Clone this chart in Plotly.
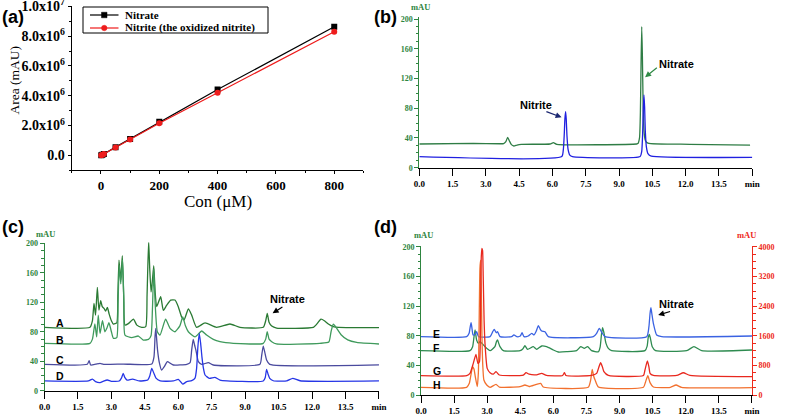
import plotly.graph_objects as go

W, H = 787, 414
SERIF = "Liberation Serif, Times New Roman, serif"
SANS = "Liberation Sans, Arial, sans-serif"
GREEN_AX = "#2e8540"
RED_AX = "#ee2a1b"

# ---------------- (a) calibration ----------------
con_um = [1, 5, 10, 50, 100, 200, 400, 800]
nitrate_area = [0.01e6, 0.045e6, 0.09e6, 0.55e6, 1.1e6, 2.25e6, 4.42e6, 8.63e6]
nitrite_area = [0.01e6, 0.04e6, 0.085e6, 0.53e6, 1.06e6, 2.15e6, 4.2e6, 8.3e6]
series_names = ["Nitrate", "Nitrite (the oxidized nitrite)"]
area_tickvals = [0, 2e6, 4e6, 6e6, 8e6, 1e7]
area_ticktext = ["0.0", "2.0x10<sup>6</sup>", "4.0x10<sup>6</sup>", "6.0x10<sup>6</sup>",
                 "8.0x10<sup>6</sup>", "1.0x10<sup>7</sup>"]

# ---------------- chromatogram time axis ----------------
time_ticks = [0, 1.5, 3.0, 4.5, 6.0, 7.5, 9.0, 10.5, 12.0, 13.5, 15.0]
time_labels = ["0.0", "1.5", "3.0", "4.5", "6.0", "7.5", "9.0", "10.5", "12.0", "13.5", "min"]

# ---------------- (b) standards ----------------
b_green_t = [0, 2.43, 3.63, 3.8, 3.9, 3.98, 4.06, 4.15, 4.26, 4.4, 4.6, 5.89, 6.04, 6.19,
             9.79, 9.85, 9.92, 9.96, 9.99, 10.02, 10.05, 10.08, 10.12, 10.18, 10.3, 12.19, 14.9]
b_green_v = [31.9, 32.7, 32.2, 32.5, 35, 40.8, 36, 31, 29.2, 30.5, 31.4, 31.9, 33.6, 31.4,
             31.9, 32.5, 40, 75, 140, 189.8, 150, 90, 50, 37, 33, 31.5, 30.5]
b_blue_t = [0, 6.42, 6.49, 6.53, 6.56, 6.59, 6.62, 6.65, 6.7, 6.78, 6.9,
            9.95, 10.02, 10.06, 10.09, 10.12, 10.15, 10.18, 10.23, 10.3, 10.45, 15.0]
b_blue_v = [14.8, 15, 25, 45, 66, 75.4, 65, 44, 25, 17, 15,
            15, 22, 45, 80, 97.8, 82, 50, 28, 19, 15.5, 13.9]

# ---------------- (c) samples A-D ----------------
c_a_t = [0, 2.04, 2.15, 2.22, 2.29, 2.37, 2.44, 2.52, 2.59, 2.67, 2.74, 2.82, 2.9, 3.0, 3.09,
         3.24, 3.29, 3.34, 3.42, 3.49, 3.55, 3.61, 3.76, 3.99, 4.14, 4.36, 4.54, 4.6, 4.67,
         4.72, 4.78, 4.84, 4.90, 4.96, 5.03, 5.21, 5.33, 5.48, 5.66, 5.85, 6.0, 6.15, 6.26,
         6.45, 6.60, 6.82, 7.2, 7.72, 8.32, 8.77, 9.81, 9.92, 9.99, 10.07, 10.19, 10.41,
         12.06, 12.2, 12.4, 12.55, 12.73, 12.95, 13.2, 15.0]
c_a_v = [86, 86, 95, 118.5, 102.7, 140.2, 109.4, 122.1, 114, 111.7, 108, 113, 104, 95, 90.5,
         92, 130, 177.3, 150, 183.2, 130, 89, 91, 97, 89, 86, 87, 130, 203.5,
         165, 134, 150, 169.6, 135, 114, 127.5, 109, 116, 123, 123, 114, 100, 96,
         111, 102.6, 86, 92, 86, 90.5, 86, 86, 95, 105, 93, 87.7, 85,
         86, 90, 97, 95, 90.5, 87, 86, 85.5]
c_b_t = [0, 2.04, 2.15, 2.26, 2.34, 2.41, 2.49, 2.6, 2.71, 2.8, 2.89, 3.0, 3.09, 3.24, 3.3,
         3.35, 3.42, 3.5, 3.56, 3.61, 3.91, 4.21, 4.43, 4.66, 4.78, 4.84, 4.9, 4.96, 5.06,
         5.18, 5.43, 5.63, 5.85, 6.07, 6.2, 6.32, 6.45, 6.75, 7.05, 7.27, 7.57, 7.87, 8.47,
         9.81, 9.92, 9.99, 10.07, 10.19, 10.4, 12.35, 12.75, 12.85, 12.95, 13.05, 13.3,
         13.6, 14.0, 15.0]
c_b_v = [64.3, 64.3, 70, 90.5, 73, 102.7, 77.8, 95, 80, 85, 92.3, 80, 71, 72, 120,
         170, 145, 178, 120, 75.5, 72, 74.2, 68.7, 69.6, 75, 110, 165, 120, 80,
         75.5, 97, 84.6, 80, 88, 100, 88, 80, 73, 81, 75.5, 69.6, 66.5, 64.3,
         64.3, 70, 80, 70, 66.5, 63.4, 64.3, 66, 80, 90.5, 87, 76,
         69, 65.5, 63.4]
c_c_t = [0, 1.92, 2.0, 2.07, 2.3, 2.49, 2.65, 3.54, 4.81, 4.91, 4.96, 4.99, 5.03, 5.07, 5.15,
         5.25, 5.38, 5.51, 5.65, 5.78, 6.38, 6.53, 6.6, 6.67, 6.73, 6.79, 6.9, 7.05, 7.35,
         7.57, 9.66, 9.74, 9.81, 9.88, 9.96, 10.1, 15.0]
c_c_v = [35.8, 35.8, 40.7, 34.9, 36, 37.1, 35.8, 36.2, 36.2, 46, 75, 84.7, 70, 55, 38,
         28, 33, 39.4, 37, 34.9, 35.8, 38, 55, 69.7, 62, 55, 39.4, 35.8, 38,
         34.9, 35.8, 48, 60.6, 52, 41.6, 35.8, 35]
c_d_t = [0, 1.97, 2.15, 2.29, 2.49, 2.65, 2.82, 3.0, 3.35, 3.45, 3.53, 3.6, 3.7, 3.95, 4.25,
         4.63, 4.72, 4.81, 4.9, 5.0, 5.19, 5.78, 6.0, 6.2, 6.38, 6.6, 6.75, 6.82, 6.88, 6.94,
         7.0, 7.06, 7.13, 7.2, 7.39, 7.64, 7.87, 9.81, 9.9, 9.96, 10.03, 10.1, 10.26, 10.86,
         11.13, 11.46, 15.0]
c_d_v = [13.2, 13.2, 15.8, 12.3, 10.9, 13, 14.5, 12.8, 13.2, 17, 23.6, 18, 14.5, 15.8, 13.2,
         14.5, 20, 30.3, 24, 17, 13.2, 13.2, 15.4, 9, 12.3, 13.6, 17, 30, 60, 77.8,
         65, 46, 30, 21.3, 16.8, 18.1, 14.5, 13.2, 18, 29, 22, 16.8, 13.5, 13.2,
         16.8, 13.5, 13.2]

# ---------------- (d) samples E-H (G, H on right axis) ----------------
d_e_t = [0, 2.07, 2.18, 2.23, 2.27, 2.31, 2.36, 2.45, 2.52, 2.61, 3.13, 3.25, 3.32, 3.41, 3.47,
         3.58, 4.11, 4.21, 4.34, 4.5, 4.58, 4.67, 4.86, 5.02, 5.12, 5.22, 5.32, 5.4, 5.47,
         5.62, 5.77, 7.81, 7.96, 8.08, 8.2, 8.34, 10.23, 10.33, 10.38, 10.42, 10.47, 10.53,
         10.68, 10.91, 15.0]
d_e_v = [78.7, 78.7, 83.2, 92, 97.6, 90, 80.9, 82, 85.4, 78.7, 78.7, 85.4, 88.6, 84, 85.4,
         78.7, 78.7, 81, 78.7, 79.5, 84, 78.7, 79.6, 83.2, 81, 86, 93.5, 89, 86.3,
         85.4, 78.7, 78.7, 83.2, 90, 84, 78.7, 78.7, 92.2, 110, 117.8, 108, 96.7,
         81, 78.7, 79.6]
d_f_t = [0, 2.22, 2.34, 2.4, 2.45, 2.52, 2.6, 2.67, 2.79, 2.9, 3.13, 3.35, 3.42, 3.47, 3.52,
         3.58, 3.73, 4.49, 4.61, 4.71, 4.83, 5.09, 5.24, 5.47, 5.69, 6.0, 6.22, 6.6, 7.05,
         7.24, 7.4, 7.55, 7.73, 8.04, 8.12, 8.18, 8.23, 8.29, 8.38, 8.49, 8.64, 10.15, 10.25,
         10.3, 10.35, 10.4, 10.48, 10.63, 12.04, 12.37, 12.72, 15.0]
d_f_v = [59.8, 59.8, 65.2, 78, 87.7, 74.2, 69.7, 71.9, 68.8, 65.2, 59.8, 65.2, 72, 74.2, 70,
         65.2, 59.8, 59.8, 62, 66.5, 61.6, 65.2, 61.6, 66.1, 65.2, 60.7, 58, 58.4, 59.8,
         65.2, 62.9, 65.2, 59.8, 58.4, 65, 82, 90.8, 84, 70, 62.9, 59.8, 59.8, 66,
         78, 81.9, 76, 65, 59.8, 59.8, 65.2, 59.8, 60.7]
d_g_t = [0, 2.07, 2.22, 2.37, 2.49, 2.58, 2.65, 2.7, 2.73, 2.76, 2.79, 2.82, 2.86, 2.9, 3.0,
         3.13, 3.28, 3.4, 3.55, 4.64, 4.76, 4.9, 5.24, 5.47, 5.69, 6.42, 6.5, 6.57, 7.73,
         7.96, 8.06, 8.14, 8.22, 8.29, 8.49, 10.08, 10.15, 10.26, 10.33, 10.38, 10.53,
         11.59, 11.89, 12.19, 15.0]
d_g_v = [521, 521, 584, 854, 1097, 854, 900, 2500, 3700, 3956, 3900, 3200, 2000, 1393, 719,
         602, 566, 629, 539, 539, 602, 560, 545, 584, 527, 527, 602, 527, 527,
         584, 750, 871, 760, 629, 527, 527, 674, 917, 760, 584, 527,
         527, 600, 527, 494]
d_h_t = [0, 2.07, 2.19, 2.28, 2.34, 2.4, 2.46, 2.55, 2.6, 2.64, 2.67, 2.7, 2.73, 2.76, 2.8,
         2.85, 2.98, 3.13, 3.4, 3.55, 4.49, 4.71, 4.9, 5.42, 5.54, 7.58, 7.69, 7.76, 7.83,
         7.89, 8.04, 10.08, 10.18, 10.28, 10.38, 10.53, 11.3, 11.56, 11.81, 15.0]
d_h_v = [207, 207, 315, 600, 764, 700, 494, 225, 600, 2200, 3400, 3641, 3000, 1663, 800,
         405, 270, 207, 288, 215, 225, 270, 230, 315, 215, 207, 405, 692, 500,
         405, 215, 207, 360, 520, 333, 215, 207, 270, 207, 198]


def px(x):
    return x / W


def py(y):
    return 1 - y / H


NITRATE_COL = "black"
NITRITE_COL = "#ee1c1c"

fig = go.Figure()

# (a)
fig.add_trace(go.Scatter(x=con_um, y=nitrate_area, mode="lines+markers", name=series_names[0],
                         line=dict(color=NITRATE_COL, width=1.2), showlegend=False,
                         marker=dict(symbol="square", size=6, color=NITRATE_COL),
                         xaxis="x", yaxis="y"))
fig.add_trace(go.Scatter(x=con_um, y=nitrite_area, mode="lines+markers",
                         name=series_names[1], showlegend=False,
                         line=dict(color=NITRITE_COL, width=1.2),
                         marker=dict(symbol="circle", size=6, color=NITRITE_COL),
                         xaxis="x", yaxis="y"))


def chrom(t, v, color, xa, ya, width=1.3):
    fig.add_trace(go.Scatter(x=t, y=v, mode="lines", showlegend=False,
                             line=dict(color=color, width=width, shape="spline", smoothing=0.5),
                             xaxis=xa, yaxis=ya, hoverinfo="skip"))


# (b)
chrom(b_green_t, b_green_v, "#2f7d45", "x2", "y2")
chrom(b_blue_t, b_blue_v, "#2020e0", "x2", "y2")
# (c)
chrom(c_a_t, c_a_v, "#2a7a33", "x3", "y3")
chrom(c_b_t, c_b_v, "#3f9a5c", "x3", "y3")
chrom(c_c_t, c_c_v, "#4a4a9e", "x3", "y3")
chrom(c_d_t, c_d_v, "#2636e6", "x3", "y3")
# (d)
chrom(d_f_t, d_f_v, "#2e8b50", "x4", "y4")
chrom(d_e_t, d_e_v, "#3a62e2", "x4", "y4")
chrom(d_h_t, d_h_v, "#f2702e", "x4", "y5")
chrom(d_g_t, d_g_v, "#e8281e", "x4", "y5")


def time_axis(dom, anchor):
    return dict(domain=dom, anchor=anchor, range=[0, 15.001], showline=True, linecolor="black",
                linewidth=1, ticks="outside", ticklen=7, tickcolor="black", tickwidth=1,
                tickmode="array", tickvals=time_ticks, ticktext=time_labels,
                tickfont=dict(family=SERIF, size=9, color="black", weight="bold"),
                ticklabeloverflow="allow",
                showgrid=False, zeroline=False, fixedrange=True, automargin=False)


def mau_axis(dom, anchor, top, color=GREEN_AX, dtick=40, minor=10, side="left", overlay=None):
    d = dict(domain=dom, anchor=anchor, range=[0, top], showline=True, linecolor=color,
             linewidth=1, ticks="outside", ticklen=4, tickcolor=color, tickwidth=1,
             tickmode="linear", tick0=0, dtick=dtick,
             tickfont=dict(family=SERIF, size=8, color=color, weight="bold"),
             minor=dict(tickmode="linear", tick0=0, dtick=minor, ticks="outside", ticklen=2.5,
                        tickcolor=color),
             ticklabeloverflow="allow",
             showgrid=False, zeroline=False, side=side, fixedrange=True, automargin=False)
    if overlay:
        d["overlaying"] = overlay
        d.pop("domain")
    return d


fig.update_layout(
    template="none",
    width=W, height=H, autosize=False,
    margin=dict(l=0, r=0, t=0, b=0, pad=0, autoexpand=False),
    paper_bgcolor="white", plot_bgcolor="white",
    showlegend=False,
    xaxis=dict(domain=[px(71.8), px(363.4)], anchor="y", range=[-100, 900],
               showline=True, linecolor="black", linewidth=1.2, ticks="outside", ticklen=3,
               tickcolor="black", tickmode="linear", tick0=0, dtick=200,
               tickfont=dict(family=SERIF, size=13, color="black", weight="bold"),
               minor=dict(tickmode="linear", tick0=0, dtick=100, ticks="outside", ticklen=2,
                          tickcolor="black"),
               ticklabeloverflow="allow",
               showgrid=False, zeroline=False, fixedrange=True, automargin=False),
    yaxis=dict(domain=[py(170.2), py(6.3)], anchor="x", range=[-1e6, 1.001e7],
               showline=True, linecolor="black", linewidth=1.2, ticks="outside", ticklen=3,
               tickcolor="black", tickmode="array", tickvals=area_tickvals,
               ticktext=area_ticktext,
               tickfont=dict(family=SERIF, size=14, color="black", weight="bold"),
               minor=dict(tickmode="linear", tick0=0, dtick=1e6, ticks="outside", ticklen=2,
                          tickcolor="black"),
               ticklabeloverflow="allow",
               showgrid=False, zeroline=False, fixedrange=True, automargin=False),
    xaxis2=time_axis([px(419.3), px(752.3)], "y2"),
    yaxis2=mau_axis([py(167.7), py(16.8)], "x2", 203),
    xaxis3=time_axis([px(44.5), px(379)], "y3"),
    yaxis3=mau_axis([py(390.7), py(242.6)], "x3", 201),
    xaxis4=time_axis([px(421), px(752)], "y4"),
    yaxis4=mau_axis([py(395), py(246)], "x4", 201),
    yaxis5=mau_axis(None, "x4", 4020, color=RED_AX, dtick=800, minor=200, side="right",
                    overlay="y4"),
)

ann = []
shapes = []


def label(text, x, y, size, family=SANS, color="black", bold=True, xanchor="center",
          yanchor="middle", angle=0):
    ann.append(dict(text=text, x=px(x), y=py(y), xref="paper", yref="paper",
                    xanchor=xanchor, yanchor=yanchor, showarrow=False, textangle=angle,
                    font=dict(family=family, size=size, color=color,
                              weight="bold" if bold else "normal")))


def arrow(xa, ya, x, y, ax, ay, color):
    ann.append(dict(text="", x=x, y=y, xref=xa, yref=ya, ax=ax, ay=ay, showarrow=True,
                    arrowhead=2, arrowsize=1, arrowwidth=1.2, arrowcolor=color))


# legend box for (a)
shapes.append(dict(type="rect", xref="paper", yref="paper", x0=px(83), x1=px(268),
                   y0=py(33), y1=py(7), line=dict(color="black", width=1),
                   fillcolor="white", layer="above"))
for i, (nm, col, sym) in enumerate([(series_names[0], NITRATE_COL, "rect"),
                                    (series_names[1], NITRITE_COL, "circle")]):
    yy = 15 + 13 * i
    shapes.append(dict(type="line", xref="paper", yref="paper", x0=px(90), x1=px(118.5),
                       y0=py(yy), y1=py(yy), line=dict(color=col, width=1.2), layer="above"))
    shapes.append(dict(type=sym, xref="paper", yref="paper", x0=px(101.5), x1=px(107),
                       y0=py(yy + 2.75), y1=py(yy - 2.75), line=dict(color=col, width=0.5),
                       fillcolor=col, layer="above"))
    label(nm, 123, yy, 11, family=SERIF, xanchor="left")

# panel letters
label("(a)", 0, 5, 18, xanchor="left", yanchor="top")
label("(b)", 372, 5, 18, xanchor="left", yanchor="top")
label("(c)", 0, 215, 18, xanchor="left", yanchor="top")
label("(d)", 372, 215, 18, xanchor="left", yanchor="top")

# (a) axis titles
label("Con (\u03bcM)", 218.3, 201.5, 17, family=SERIF, bold=False)
label("Area (mAU)", 14.5, 80, 13.5, family=SERIF, bold=False, angle=-90)

# mAU units
label("mAU", 421, 7.5, 8.5, family=SERIF, color=GREEN_AX)
label("mAU", 45, 234.5, 8.5, family=SERIF, color=GREEN_AX)
label("mAU", 423, 235, 8.5, family=SERIF, color=GREEN_AX)
label("mAU", 746.7, 235, 8.5, family=SERIF, color=RED_AX)

# (b) annotations
label("Nitrite", 535.8, 105.3, 11)
arrow("x2", "y2", 6.41, 67.8, -16.7, -6.3, "#1a2670")
label("Nitrate", 676.8, 63.8, 11)
arrow("x2", "y2", 10.17, 121.7, 13.3, -10.6, "#2f8a45")

# (c) annotations
label("Nitrate", 287.5, 298.5, 11)
arrow("x3", "y3", 10.23, 105, 11.3, -7.3, "black")
for txt, yy in [("A", 323), ("B", 339.5), ("C", 360.3), ("D", 376.2)]:
    label(txt, 60.3, yy, 10.5)

# (d) annotations
label("Nitrate", 676.2, 304.2, 11)
arrow("x4", "y4", 10.75, 107.9, 13.4, -4, "black")
for txt, yy in [("E", 333.7), ("F", 347.8), ("G", 371.3), ("H", 384.5)]:
    label(txt, 436.5, yy, 10.5)

fig.update_layout(annotations=ann, shapes=shapes)
fig.write_html("out.html", config={"displayModeBar": False, "staticPlot": True},
               post_script="document.body.style.margin='0px';document.body.style.padding='0px';")
